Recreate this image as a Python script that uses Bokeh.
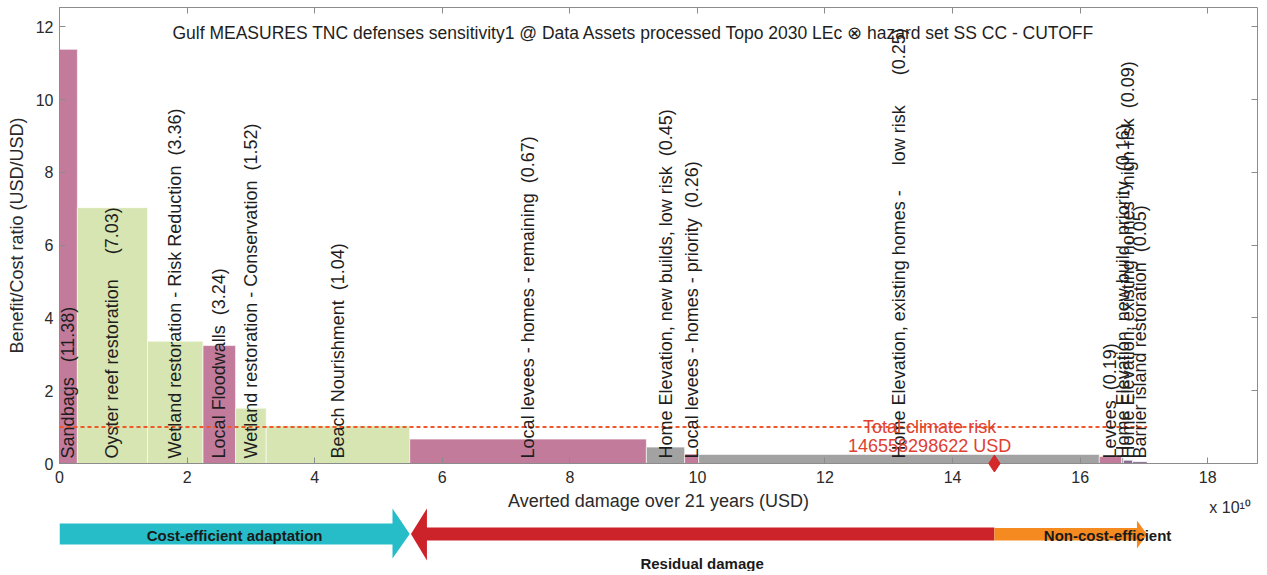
import numpy as np
from bokeh.plotting import figure
from bokeh.models import Range1d, LinearAxis, Label, ColumnDataSource, FixedTicker
from bokeh.layouts import column
from bokeh.embed import file_html
from bokeh.resources import INLINE
from bokeh.core.properties import value

NB = "\u00a0"

# ---------------- data ----------------
measures = [
    "Sandbags", "Oyster reef restoration", "Wetland restoration - Risk Reduction",
    "Local Floodwalls", "Wetland restoration - Conservation", "Beach Nourishment",
    "Local levees - homes - remaining", "Home Elevation, new builds, low risk",
    "Local levees - homes - priority",
    "Home Elevation, existing homes -" + NB * 5 + "low risk",
    "Levees", "Home Elevation, new build, priority",
    "Home Elevation, existing homes - high risk", "Barrier island restoration",
]
label_gap = [3, 5, 2, 2, 2, 2, 2, 2, 2, 6, 2, 2, 2, 2]
benefit_cost = [11.38, 7.03, 3.36, 3.24, 1.52, 1.04, 0.67, 0.45, 0.26, 0.25, 0.19, 0.16, 0.09, 0.05]
averted_damage_e10 = [0.28, 1.10, 0.87, 0.51, 0.48, 2.25, 3.71, 0.60, 0.22, 6.28, 0.35, 0.03, 0.14, 0.23]
measure_type = ["grey_infra", "nature", "nature", "grey_infra", "nature", "nature",
                "grey_infra", "elevation", "grey_infra", "elevation", "grey_infra",
                "elevation", "other", "other"]
total_climate_risk_usd = 146558298622
x_ticks = [0, 2, 4, 6, 8, 10, 12, 14, 16, 18]
y_ticks = [0, 2, 4, 6, 8, 10, 12]
title_text = "Gulf MEASURES TNC defenses sensitivity1 @ Data Assets processed Topo 2030 LEc \u2297 hazard set SS CC - CUTOFF"
x_label = "Averted damage over 21 years (USD)"
y_label = "Benefit/Cost ratio (USD/USD)"
x_multiplier = "x 10\u00b9\u2070"

# ---------------- styles ----------------
palette = {"grey_infra": "#c27b9b", "nature": "#d7e5b2", "elevation": "#a2a2a2", "other": "#8a6b93"}
FONT = value("Liberation Sans")
AX_COL = "#8c8c8c"
TXT_COL = "#2a2a2a"

right = np.cumsum(averted_damage_e10)
left = right - np.array(averted_damage_e10)
centers = (left + right) / 2
labels = [f"{m}{NB * g}({b:.2f})" for m, g, b in zip(measures, label_gap, benefit_cost)]
colors = [palette[t] for t in measure_type]
risk_e10 = total_climate_risk_usd / 1e10
total_measures = right[-1]
cost_eff_end = right[np.array(benefit_cost) >= 1][-1]

src = ColumnDataSource(dict(left=left, right=right, top=benefit_cost, color=colors,
                            xc=centers, label=labels))

p = figure(frame_width=1198, frame_height=456,
           x_range=Range1d(0, 18.78), y_range=Range1d(0, 12.53),
           output_backend="svg", toolbar_location=None,
           min_border_left=59, min_border_right=2, min_border_top=7, min_border_bottom=28)
p.grid.visible = False
p.outline_line_color = AX_COL
p.background_fill_color = "white"

for ax in (p.xaxis[0], p.yaxis[0]):
    ax.major_tick_in = 6
    ax.major_tick_out = 0
    ax.minor_tick_line_color = None
    ax.axis_line_color = AX_COL
    ax.major_tick_line_color = AX_COL
    ax.major_label_text_font = "Liberation Sans"
    ax.major_label_text_font_size = "16px"
    ax.major_label_text_color = TXT_COL
    ax.axis_label_text_font = "Liberation Sans"
    ax.axis_label_text_font_size = "18px"
    ax.axis_label_text_font_style = "normal"
    ax.axis_label_text_color = TXT_COL
p.xaxis.ticker = FixedTicker(ticks=x_ticks)
p.yaxis.ticker = FixedTicker(ticks=y_ticks)
p.yaxis.axis_label = y_label
p.xaxis.major_label_standoff = 7
p.yaxis.major_label_standoff = 6
p.yaxis.axis_label_standoff = 6

# mirrored ticks (box style)
top_ax = LinearAxis(ticker=FixedTicker(ticks=x_ticks),
                    major_label_overrides={t: "" for t in x_ticks},
                    major_tick_in=6, major_tick_out=0, minor_tick_line_color=None,
                    axis_line_color=None, major_label_standoff=0, major_tick_line_color=AX_COL)
right_ax = LinearAxis(ticker=FixedTicker(ticks=y_ticks),
                      major_label_overrides={t: "" for t in y_ticks},
                      major_tick_in=6, major_tick_out=0, minor_tick_line_color=None,
                      axis_line_color=None, major_label_standoff=0, major_tick_line_color=AX_COL)
p.add_layout(top_ax, "above")
p.add_layout(right_ax, "right")

p.quad(left="left", right="right", bottom=0, top="top", fill_color="color",
       line_color="white", line_width=0.6, source=src)

p.line([0, total_measures], [1, 1], line_color="#f0582a", line_width=2, line_dash="4 3")

p.text(x="xc", y=0.14, text="label", angle=np.pi / 2, text_align="left",
       text_baseline="middle", text_font=FONT, text_font_size="18px",
       text_color="#1e1e1e", source=src)

p.scatter(x=[risk_e10], y=[0], marker="diamond", size=17, color="#d42a2a", level="overlay")

p.text(x=[13.64, 13.64], y=[0.99, 0.47],
       text=["Total climate risk", f"{total_climate_risk_usd} USD"],
       text_align="center", text_baseline="middle", text_font=FONT,
       text_font_size="18px", text_color="#e0402f")

p.add_layout(Label(x=9.0, y=11.82, text=title_text, text_align="center",
                   text_baseline="middle", text_font="Liberation Sans",
                   text_font_size="17.5px", text_color="#1e1e1e"))

# ---------------- x-axis title + arrows panel ----------------
p2 = figure(frame_width=1198, frame_height=80, x_range=p.x_range, y_range=Range1d(80, 0),
            output_backend="svg", toolbar_location=None,
            min_border_left=59, min_border_right=2, min_border_top=0, min_border_bottom=0)
p2.axis.visible = False
p2.grid.visible = False
p2.outline_line_color = None

# x-axis title and multiplier (belong to the x axis above)
p2.text(x=[9.39], y=[9], text=[x_label], text_align="center", text_baseline="middle",
        text_font=FONT, text_font_size="18px", text_color=TXT_COL)
p2.text(x=[18.35], y=[16], text=[x_multiplier], text_align="center", text_baseline="middle",
        text_font=FONT, text_font_size="16px", text_color=TXT_COL)

hx = 0.27   # arrow head length (x units)
tip = cost_eff_end
cyan_x = [0, tip - hx, tip - hx, tip, tip - hx, tip - hx, 0]
cyan_y = [32, 32, 17, 42.5, 67, 53, 53]
rt = tip + 0.02
red_x = [rt, rt + 0.25, rt + 0.25, risk_e10, risk_e10, rt + 0.25, rt + 0.25]
red_y = [42.5, 17, 36, 36, 49, 49, 69]
oe = total_measures
or_x = [risk_e10, oe - 0.16, oe - 0.16, oe, oe - 0.16, oe - 0.16, risk_e10]
or_y = [36.5, 36.5, 29, 43, 57, 49, 49]
p2.patches(xs=[cyan_x, red_x, or_x], ys=[cyan_y, red_y, or_y],
           fill_color=["#27bdc8", "#cc2229", "#f58a20"], line_color=None)

p2.text(x=[cost_eff_end / 2, (cost_eff_end + risk_e10) / 2, 16.43],
        y=[44, 72, 44],
        text=["Cost-efficient adaptation", "Residual damage", "Non-cost-efficient"],
        text_align="center", text_baseline="middle", text_font=FONT,
        text_font_size="15px", text_font_style="bold", text_color="#1a1a1a")

layout = column(p, p2)
open("out.html", "w").write(file_html(layout, INLINE))
